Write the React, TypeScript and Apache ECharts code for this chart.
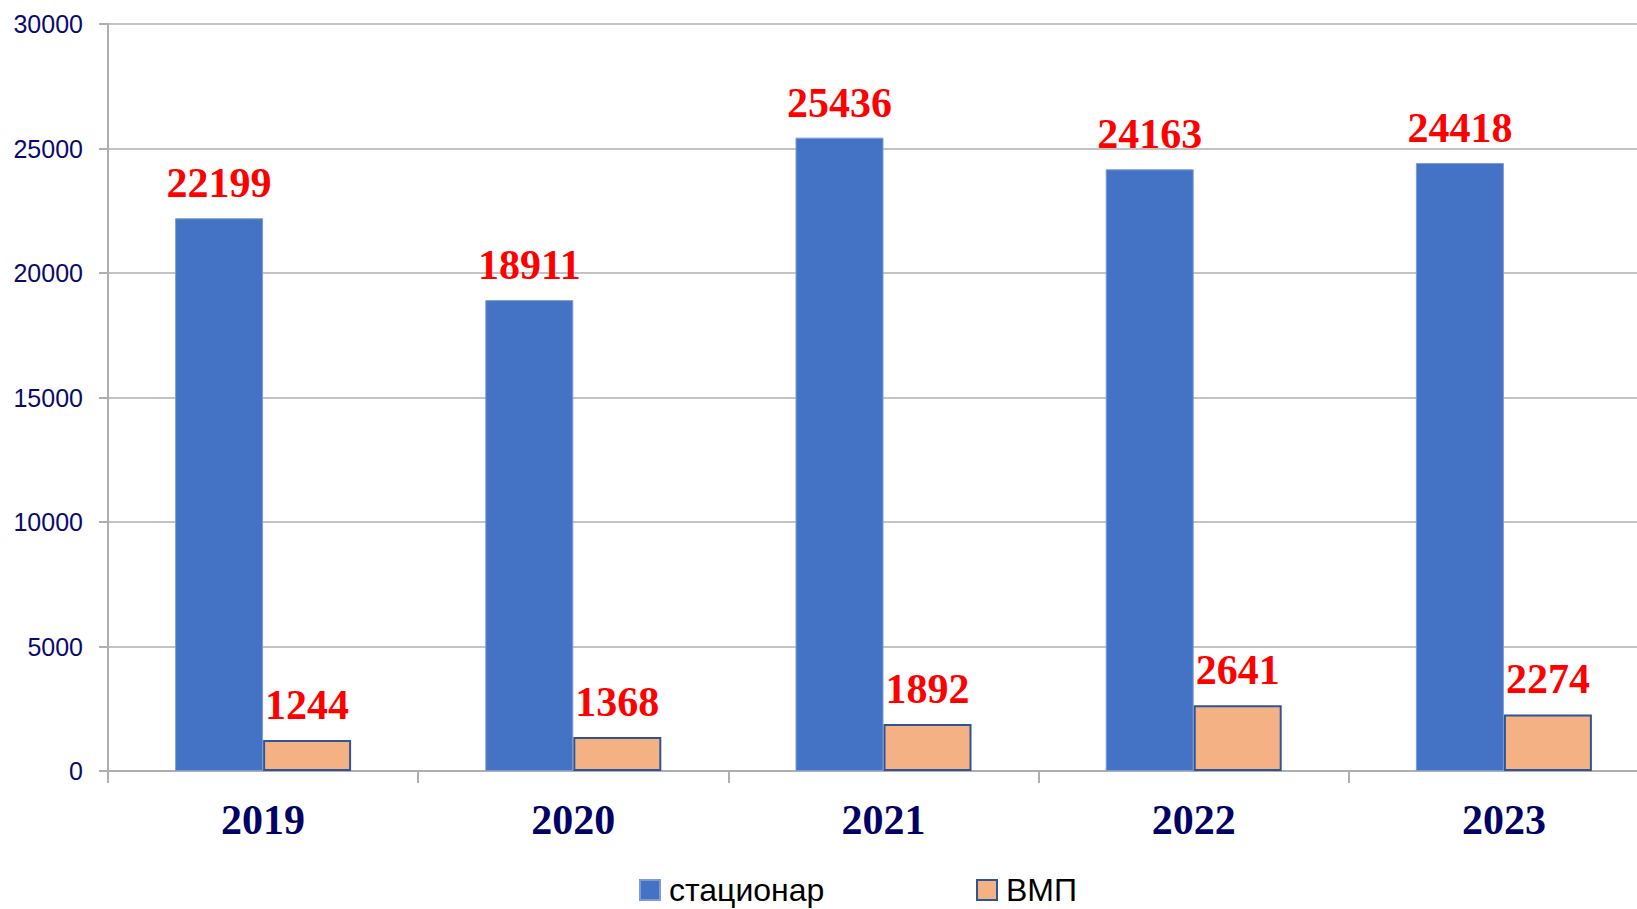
import React, { useEffect, useRef } from "react";
import * as echarts from "echarts";

const years = ["2019", "2020", "2021", "2022", "2023"];
const stationary = [22199, 18911, 25436, 24163, 24418];
const vmp = [1244, 1368, 1892, 2641, 2274];
const seriesNames = ["стационар", "ВМП"];

export default function App() {
  const ref = useRef<HTMLDivElement>(null);
  useEffect(() => {
    const chart = echarts.init(ref.current!, null, { renderer: "svg" });
    const labelStyle = {
      show: true,
      position: "top",
      distance: 14,
      color: "#FF0000",
      fontFamily: "Liberation Serif",
      fontWeight: "bold",
      fontSize: 42,
    };
    const legendText = {
      fontFamily: "Liberation Sans",
      fontSize: 32,
      color: "#000000",
      padding: [0, 0, 0, 4],
    };
    chart.setOption({
      animation: false,
      backgroundColor: "#ffffff",
      grid: { left: 108, right: 0, top: 24, bottom: 138, containLabel: false },
      legend: [
        {
          data: [seriesNames[0]],
          left: 634,
          top: 869,
          icon: "rect",
          itemWidth: 20,
          itemHeight: 20,
          textStyle: legendText,
        },
        {
          data: [seriesNames[1]],
          left: 971,
          top: 869,
          icon: "rect",
          itemWidth: 20,
          itemHeight: 20,
          textStyle: legendText,
        },
      ],
      xAxis: {
        type: "category",
        data: years,
        axisLine: { lineStyle: { color: "#AFAFAF", width: 2 } },
        axisTick: { show: true, length: 12, lineStyle: { color: "#AFAFAF", width: 2 } },
        axisLabel: {
          color: "#000066",
          fontFamily: "Liberation Serif",
          fontWeight: "bold",
          fontSize: 42,
          margin: 28,
        },
      },
      yAxis: {
        type: "value",
        min: 0,
        max: 30000,
        interval: 5000,
        axisLine: { show: true, lineStyle: { color: "#AFAFAF", width: 2 } },
        axisTick: { show: true, length: 9, lineStyle: { color: "#AFAFAF", width: 2 } },
        splitLine: { lineStyle: { color: "#AFAFAF", width: 1.5 } },
        axisLabel: {
          color: "#0A0A6E",
          fontFamily: "Liberation Sans",
          fontSize: 25,
          margin: 25,
          formatter: (v: number) => String(v),
        },
      },
      series: [
        {
          name: seriesNames[0],
          type: "bar",
          data: stationary,
          barWidth: 88,
          barGap: "0%",
          itemStyle: { color: "#4472C4", borderColor: "#7D9BD6", borderWidth: 1 },
          label: labelStyle,
        },
        {
          name: seriesNames[1],
          type: "bar",
          data: vmp,
          barWidth: 88,
          barGap: "0%",
          itemStyle: { color: "#F4B183", borderColor: "#2F5597", borderWidth: 2 },
          label: labelStyle,
        },
      ],
    });
    return () => chart.dispose();
  }, []);
  return (
    <div
      ref={ref}
      style={{ position: "fixed", left: 0, top: 0, width: 1659, height: 909 }}
    />
  );
}
